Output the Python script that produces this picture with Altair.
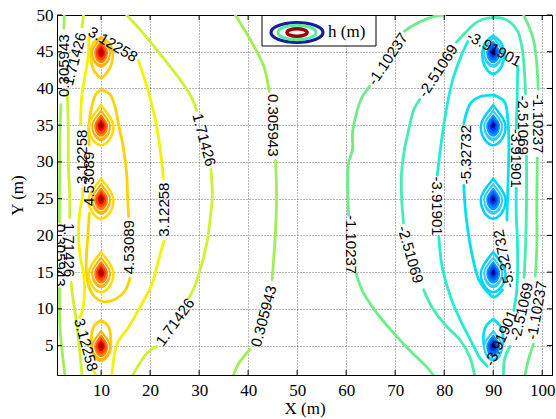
import altair as alt
import pandas as pd

# ---------------- axes ----------------
X_DOMAIN = [1, 102]
Y_DOMAIN = [1, 50]
x_ticks = [10, 20, 30, 40, 50, 60, 70, 80, 90, 100]
y_ticks = [5, 10, 15, 20, 25, 30, 35, 40, 45, 50]

# ---------------- contour levels ----------------
levels = ["-5.32732", "-3.91901", "-2.51069", "-1.10237", "0.305943", "1.71426", "3.12258", "4.53089"]
level_colors = ["#00e1f0", "#22ecd6", "#45eeb0", "#6bee88", "#a0ee55", "#cdf232", "#f4f200", "#ffd200"]

# ---------------- wells ----------------
well_y = [5, 15, 25, 35, 45]
inj_x = 10
ext_x = 90
mid_well_y = [15, 25, 35]

# ---------------- contour polylines (None = label gap) ----------------
p0l_x = [2.5, 2.4, None, 1.8, 1.6, 1.55, 1.5, 1.5, None, 1.5, 1.6, 1.95, 2.6]
p0l_y = [50, 48.2, None, 37.8, 34, 29, 25, 21.8, None, 12.8, 7.6, 4.85, 1.0]

p1l_x = [6.4, 6.1, None, 3.1, 3.3, 3.3, 3.6, 3.6, None, 3.9, 4.1, 5.1, 6.1]
p1l_y = [50, 48.4, None, 39.6, 34.4, 29.9, 25.3, 22.4, None, 13.6, 12.2, 7.6, 1.0]

p3_x = [8.9, 8.5, None, 5.6, 6.2, 6.6, 6.4, 5.8, 5.4, 5.6, 6.2, 6.2, None, 5.8, 6.05, 6.8, 7.4, 7.5,
        None, 17.6, 19.0, 21.0, 22.0, 22.7, None, 22.8, 21.7, 20.4, 18.3, 15.6, 13.3, 12.2]
p3_y = [1.0, 1.6, None, 8.8, 9.8, 12.2, 14.9, 16.8, 20.2, 23.0, 25.3, 26.3, None, 35.1, 38.9, 42.0, 44.6, 46.9,
        None, 43.8, 41.0, 36.0, 32.0, 27.8, None, 19.2, 16.6, 13.4, 10.7, 7.5, 5.3, 1.0]

p4_x = [10, 11.8, 12.8, 13.6, 14.5, 15.2, 15.4, 15.6, None, 15.9, 14.8, 12.5, 10.4, 8.6, 7.5, 7.0, 7.0, 7.3, 7.6,
        None, 7.6, 7.5, 8.2, 9.0, 10]
p4_y = [39.8, 39.2, 37.6, 35.0, 32.1, 28.5, 25.3, 22.6, None, 14.2, 12.4, 11.2, 11.0, 11.7, 13.0, 15.0, 17.0, 20.0, 23.0,
        None, 32.3, 35.0, 37.8, 39.3, 39.8]

w45_x = [10, 11.6, 12.4, 11.8, 10.6, 10, 9.4, 8.3, 7.9, 8.4, 10]
w45_y = [46.9, 46.2, 44.5, 42.8, 41.7, 41.4, 41.7, 42.8, 44.5, 46.2, 46.9]
w5_x = [10, 11.4, 12.0, 11.5, 10, 8.5, 8.0, 8.6, 10]
w5_y = [8.4, 7.7, 5.6, 3.8, 3.0, 3.8, 5.6, 7.7, 8.4]

p1r_x = [15.2, 18.5, 22.5, 26.0, 28.3, 29.5, None, 32.4, 32.7, 32.3, 31.7, 30.2, 28.8, 27.8, None, 21.4, 19.4, 17.4, 16.5]
p1r_y = [50, 47.6, 44.3, 41.3, 39.0, 37.0, None, 29.0, 25.3, 22.6, 19.4, 15.3, 12.6, 11.4, None, 4.9, 4.0, 2.1, 1.0]

p0m_x = [37.4, 40.8, 43.2, 44.3, None, 45.6, 45.8, 45.6, 45.2, 44.9, None, 40.4, 38.1, 37.0]
p0m_y = [50, 46.2, 43.0, 39.6, None, 30.2, 25.3, 20.8, 16.7, 14.0, None, 4.5, 2.6, 1.0]

n1l_x = [80.1, 78.0, 74.0, 71.9, None, 64.8, 63.3, 62.3, 61.3, 61.3, 60.5, 60.3, 60.5,
         None, 62.1, 63.5, 66.2, 69.7, 72.9, 76.4, 77.8]
n1l_y = [50, 49.8, 48.7, 47.8, None, 40.3, 38.9, 37.1, 34.0, 31.7, 29.9, 27.2, 22.8,
         None, 14.7, 12.2, 9.5, 6.7, 4.4, 2.1, 1.0]

n1r_x = [96.2, 98.2, 99.2, None, 99.0, 98.9, 98.9, 98.6, None, 98.2, 97.2, 96.5]
n1r_y = [50, 46.7, 39.9, None, 30.5, 24.8, 18.4, 14.5, None, 5.2, 3.1, 1.0]

n2_x = [86.2, 85.2, 83.2, 80.5, 77.8, 75.8, None, 71.7, 71.3, 71.3, 71.9, 72.3, 72.9, 73.8, 75.0,
        None, 82.5, 84.6, 86.6, 89.0, 91.5, 93.5, 95.0, 95.9, 96.4, 96.6,
        None, 96.8, 96.8, 96.6, 96.3, None, 93.4, 92.3, 92.1]
n2_y = [1.0, 3.5, 5.8, 7.6, 9.9, 12.6, None, 21.7, 25.3, 28.5, 31.7, 33.0, 34.8, 37.1, 38.5,
        None, 46.3, 47.8, 49.0, 49.6, 49.6, 49.0, 47.8, 45.5, 42.0, 39.3,
        None, 30.8, 24.8, 18.4, 14.3, None, 4.9, 3.1, 1.0]

n3_x = [84.8, 83.4, 81.7, 80.3, 79.3, 78.6, None, 78.9, 79.6, 81.3, 83.5, 85.5, 87.2, 88.8,
        None, 94.2, 94.8, 95.0, 94.9, 94.7, 94.7, None, 94.7, 94.9, 95.0]
n3_y = [46.4, 44.3, 41.1, 36.6, 32.1, 28.2, None, 19.8, 15.7, 11.6, 8.2, 5.6, 3.4, 2.2,
        None, 9.8, 12.5, 16.0, 20.0, 23.0, 26.4, None, 34.6, 39.0, 43.0]

n5_x = [90.2, 92.3, 93.0, 93.2, 93.0, 92.8, None, 91.9, 90.2, 89.1, 87.1, 85.4, 84.4, 84.0,
        None, 84.0, 85.4, 87.4, 90.2]
n5_y = [39.1, 38.2, 35.7, 32.1, 26.6, 22.1, None, 12.6, 11.6, 12.1, 13.9, 18.4, 23.0, 26.8,
        None, 35.2, 38.0, 38.9, 39.1]

w45r_x = [90, 91.6, 92.2, 91.3, 90, 88.7, 87.8, 88.4, 90]
w45r_y = [47.2, 46.2, 44.3, 42.6, 42.0, 42.6, 44.3, 46.2, 47.2]
w5r_x = [90, 91.5, 92.0, 91.3, 90, 88.7, 88.0, 88.5, 90]
w5r_y = [8.6, 7.6, 5.8, 4.0, 3.3, 4.0, 5.8, 7.6, 8.6]

# ---------------- contour labels ----------------
lab_text = ["0.305943", "0.305943", "1.71426", "1.71426", "3.12258", "3.12258", "4.53089", "3.12258",
            "3.12258", "4.53089", "1.71426", "1.71426", "0.305943", "0.305943",
            "-1.10237", "-1.10237", "-2.51069", "-2.51069", "-3.91901", "-3.91901", "-5.32732",
            "-3.91901", "-2.51069", "-1.10237", "-5.32732", "-2.51069", "-1.10237", "-3.91901"]
lab_x = [2.45, 1.7, 4.6, 3.5, 12.4, 6.0, 7.6, 6.9,
         22.9, 15.7, 31.0, 25.1, 45.1, 43.2,
         68.5, 60.9, 78.75, 73.1, 90.2, 78.5, 84.4,
         94.7, 96.0, 99.2, 92.2, 95.8, 98.9, 91.6]
lab_y = [43.1, 17.3, 44.0, 18.0, 46.0, 30.7, 27.7, 5.1,
         23.5, 18.4, 33.0, 8.2, 35.0, 9.0,
         44.0, 18.75, 42.4, 17.4, 45.4, 24.0, 31.0,
         30.5, 35.0, 35.2, 16.8, 9.6, 9.8, 6.0]
lab_angle = [270, 90, 285, 90, 31, 270, 270, 75,
             270, 270, 75, 306, 90, 285,
             304, 90, 303, 74, 28, 90, 270,
             90, 90, 90, 259, 283, 280, 294]

# ---------------- build tables ----------------
line_specs = [
    ("p0l", "0.305943", p0l_x, p0l_y),
    ("p1l", "1.71426", p1l_x, p1l_y),
    ("p3", "3.12258", p3_x, p3_y),
    ("p4", "4.53089", p4_x, p4_y),
    ("w45", "4.53089", w45_x, w45_y),
    ("w5", "4.53089", w5_x, w5_y),
    ("p1r", "1.71426", p1r_x, p1r_y),
    ("p0m", "0.305943", p0m_x, p0m_y),
    ("n1l", "-1.10237", n1l_x, n1l_y),
    ("n1r", "-1.10237", n1r_x, n1r_y),
    ("n2", "-2.51069", n2_x, n2_y),
    ("n3", "-3.91901", n3_x, n3_y),
    ("n5", "-5.32732", n5_x, n5_y),
    ("w45r", "-5.32732", w45r_x, w45r_y),
    ("w5r", "-5.32732", w5r_x, w5r_y),
]
rows = []
for name, lvl, xs_, ys_ in line_specs:
    seg, i = 0, 0
    for xv, yv in zip(xs_, ys_):
        if xv is None:
            seg += 1
            continue
        rows.append({"seg": f"{name}_{seg}", "lvl": lvl, "i": i, "x": xv, "y": yv})
        i += 1
lines_df = pd.DataFrame(rows)
labels_df = pd.DataFrame({"t": lab_text, "x": lab_x, "y": lab_y, "a": lab_angle})
inj_df = pd.DataFrame({"x": [inj_x] * len(well_y), "y": well_y})
ext_df = pd.DataFrame({"x": [ext_x] * len(well_y), "y": well_y})
inj_mid_df = pd.DataFrame({"x": [inj_x] * len(mid_well_y), "y": mid_well_y})
ext_mid_df = pd.DataFrame({"x": [ext_x] * len(mid_well_y), "y": mid_well_y})
xt_df = pd.DataFrame({"x": x_ticks})
yt_df = pd.DataFrame({"y": y_ticks})
dummy = pd.DataFrame({"d": [0]})

SERIF = "Liberation Serif"
SANS = "Liberation Sans"
xs = alt.Scale(domain=X_DOMAIN, nice=False, zero=False)
ys = alt.Scale(domain=Y_DOMAIN, nice=False, zero=False)
x_axis = alt.Axis(title="X (m)", values=x_ticks, grid=True, ticks=False, labelFlush=False,
                  labelPadding=7, titlePadding=2)
y_axis = alt.Axis(title="Y (m)", values=y_ticks, grid=True, ticks=False, labelFlush=False,
                  labelPadding=4, titlePadding=10)


def X(f="x:Q"):
    return alt.X(f, scale=xs, axis=x_axis, title="X (m)")


def Y(f="y:Q"):
    return alt.Y(f, scale=ys, axis=y_axis, title="Y (m)")


contours = alt.Chart(lines_df).mark_line(strokeWidth=2.8, clip=True, interpolate="catmull-rom",
                                         strokeCap="round", strokeJoin="round").encode(
    x=X(), y=Y(), detail="seg:N", order="i:Q",
    color=alt.Color("lvl:N", scale=alt.Scale(domain=levels, range=level_colors), legend=None),
)

blob_shape = ("M0,-1 C0.35,-0.55 0.62,-0.25 0.62,0.08 C0.62,0.55 0.3,1 0,1 "
              "C-0.3,1 -0.62,0.55 -0.62,0.08 C-0.62,-0.25 -0.35,-0.55 0,-1 Z")
ring_h = [32, 24, 17, 11, 6]
inj_fill = ["#ffb400", "#ff8000", "#ff4400", "#e00000", "#a00000"]
ext_fill = ["#33ccff", "#0099ff", "#0066ff", "#0033dd", "#00008f"]
ring_stroke = [0.0, 1.0, 0.0, 0.0, 0.0]

blob_layers = []
blob_layers.append(alt.Chart(inj_mid_df).mark_point(shape=blob_shape, size=40 * 40, filled=False,
                                                     color="#ffdc00", strokeWidth=2.5, opacity=1).encode(x=X(), y=Y()))
blob_layers.append(alt.Chart(ext_mid_df).mark_point(shape=blob_shape, size=40 * 40, filled=False,
                                                     color="#00d0ff", strokeWidth=2.5, opacity=1).encode(x=X(), y=Y()))
for h, c, sw in zip(ring_h, inj_fill, ring_stroke):
    blob_layers.append(alt.Chart(inj_df).mark_point(shape=blob_shape, size=h * h, filled=True, fill=c,
                                                    opacity=1, stroke="white", strokeWidth=sw).encode(x=X(), y=Y()))
for h, c, sw in zip(ring_h, ext_fill, ring_stroke):
    blob_layers.append(alt.Chart(ext_df).mark_point(shape=blob_shape, size=h * h, filled=True, fill=c,
                                                    opacity=1, stroke="white", strokeWidth=sw).encode(x=X(), y=Y()))

labels = alt.Chart(labels_df).mark_text(font=SANS, fontSize=15, color="black", clip=True,
                                        align="center", baseline="middle").encode(
    x=X(), y=Y(), text="t:N", angle=alt.Angle("a:Q", scale=None),
)

# inward ticks on four sides
tick_b = alt.Chart(xt_df).mark_rule(color="black", strokeWidth=1).encode(x=X(), y=alt.value(360), y2=alt.value(355))
tick_t = alt.Chart(xt_df).mark_rule(color="black", strokeWidth=1).encode(x=X(), y=alt.value(0), y2=alt.value(5))
tick_l = alt.Chart(yt_df).mark_rule(color="black", strokeWidth=1).encode(y=Y(), x=alt.value(0), x2=alt.value(5))
tick_r = alt.Chart(yt_df).mark_rule(color="black", strokeWidth=1).encode(y=Y(), x=alt.value(495), x2=alt.value(490))

# legend box
leg_box = alt.Chart(dummy).mark_rect(fill="white", stroke="black", strokeWidth=1).encode(
    x=alt.value(205), x2=alt.value(319), y=alt.value(0.5), y2=alt.value(31))
ell = "M-1,0 A1,0.38 0 1,1 1,0 A1,0.38 0 1,1 -1,0 Z"
leg_o = alt.Chart(dummy).mark_point(shape=ell, size=52 * 52, filled=False, color="#14209a", strokeWidth=3.2,
                                    opacity=1).encode(x=alt.value(240), y=alt.value(17.5))
leg_m = alt.Chart(dummy).mark_point(shape=ell, size=38 * 38, filled=False, color="#55eea0", strokeWidth=3,
                                    opacity=1).encode(x=alt.value(240), y=alt.value(17.5))
leg_i = alt.Chart(dummy).mark_point(shape=ell, size=20 * 20, filled=False, color="#a00000", strokeWidth=3.5,
                                    opacity=1).encode(x=alt.value(240), y=alt.value(17.5))
leg_t = alt.Chart(dummy).mark_text(text="h (m)", font=SERIF, fontSize=17, align="left", baseline="middle",
                                   color="black").encode(x=alt.value(271), y=alt.value(17))

chart = alt.layer(
    contours, *blob_layers, labels, tick_b, tick_t, tick_l, tick_r,
    leg_box, leg_o, leg_m, leg_i, leg_t,
).properties(
    width=495, height=360, autosize="none",
    padding={"left": 57, "top": 15, "right": 4, "bottom": 44},
).configure_axis(
    labelFont=SERIF, titleFont=SERIF, labelFontSize=17, titleFontSize=17, titleFontWeight="normal",
    labelColor="black", titleColor="black", domainColor="black", domainWidth=1,
    gridColor="#000000", gridOpacity=0.55, gridDash=[1, 2], gridWidth=1, tickSize=0,
).configure_view(stroke="black", strokeWidth=1)

chart.save("out.html", embed_options={"renderer": "svg", "actions": False})
